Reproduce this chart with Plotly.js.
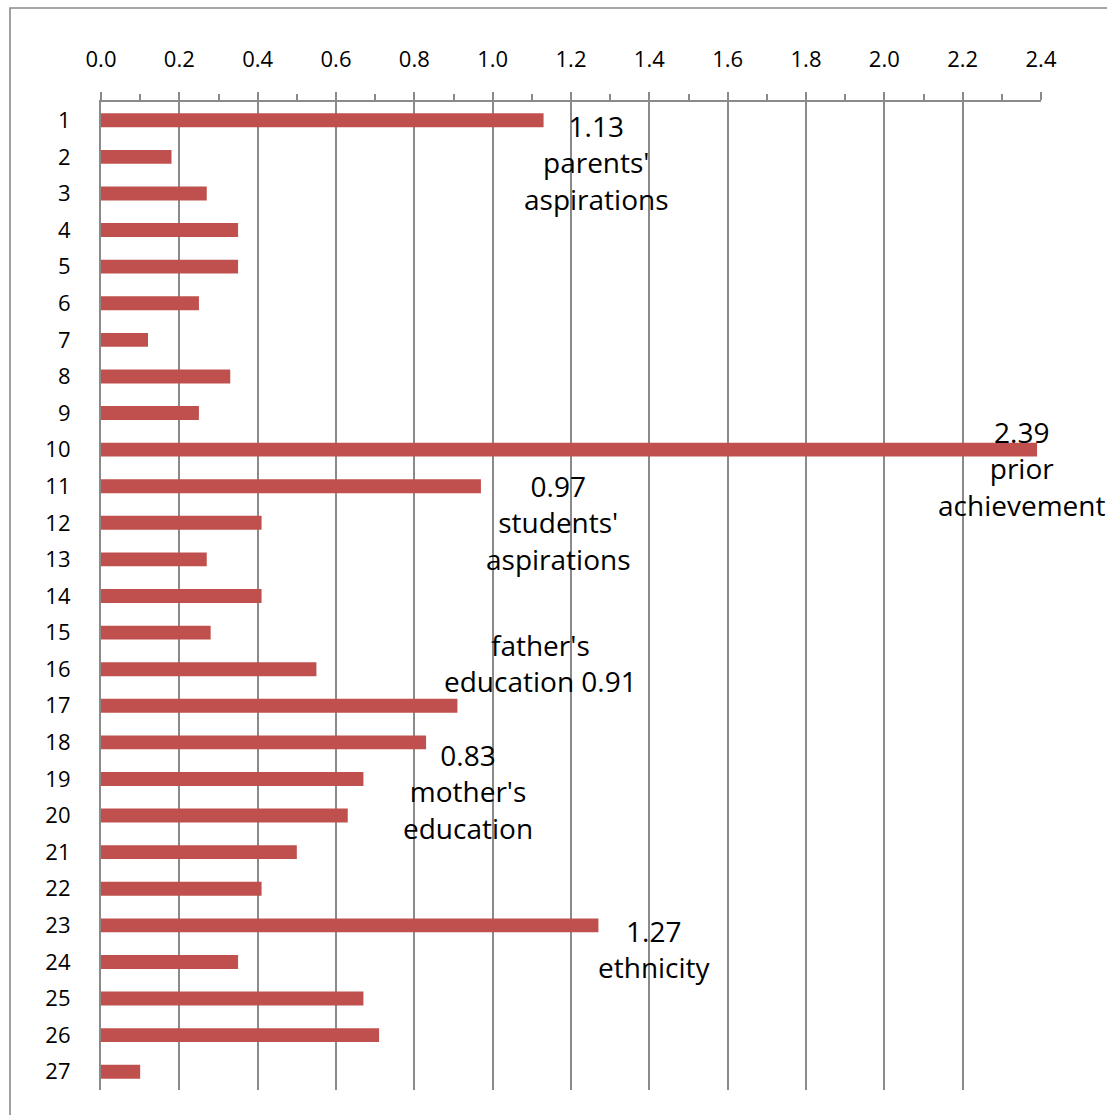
<!DOCTYPE html>
<html>
<head>
<meta charset="utf-8">
<script src="https://cdn.plot.ly/plotly-3.0.1.min.js"></script>
<style>
html,body{margin:0;padding:0;background:#fff;overflow:hidden;}
#chart{width:1107px;height:1115px;}
</style>
</head>
<body>
<div id="chart"></div>
<script>
// Categories (top to bottom)
const categories = ['1','2','3','4','5','6','7','8','9','10','11','12','13','14','15','16','17','18','19','20','21','22','23','24','25','26','27'];
// Bar values
const values = [1.13,0.18,0.27,0.35,0.35,0.25,0.12,0.33,0.25,2.39,0.97,0.41,0.27,0.41,0.28,0.55,0.91,0.83,0.67,0.63,0.50,0.41,1.27,0.35,0.67,0.71,0.10];
// X tick values and labels
const xTickVals = [0,0.2,0.4,0.6,0.8,1.0,1.2,1.4,1.6,1.8,2.0,2.2,2.4];
const xTickText = ['0.0','0.2','0.4','0.6','0.8','1.0','1.2','1.4','1.6','1.8','2.0','2.2','2.4'];
// Annotation texts, their x (data units) and y (category index)
const noteTexts = ["1.13<br>parents'<br>aspirations","2.39<br>prior<br>achievement","0.97<br>students'<br>aspirations","father's<br>education 0.91","0.83<br>mother's<br>education","1.27<br>ethnicity"];
const noteX = [1.266, 2.351, 1.167, 1.123, 0.937, 1.412];
const noteY = [1.16, 9.51, 11.0, 14.83, 18.34, 22.65];

const trace = {
  type: 'bar',
  orientation: 'h',
  x: values,
  y: categories,
  marker: {color: '#C0504D', line: {width: 0}},
  hoverinfo: 'x+y'
};

const grid = '#8a8a8a';
const annotations = noteTexts.map((t, i) => ({
  text: t, x: noteX[i], y: noteY[i], xref: 'x', yref: 'y',
  showarrow: false, xanchor: 'center', yanchor: 'middle', align: 'center',
  font: {family: 'Open Sans, sans-serif', size: 28, color: '#000'}
}));

const layout = {
  width: 1107, height: 1115,
  margin: {l: 101, r: 66, t: 102, b: 25, pad: 0},
  paper_bgcolor: '#fff', plot_bgcolor: '#fff',
  showlegend: false,
  bargap: 0.62,
  font: {family: 'Open Sans, sans-serif', color: '#000'},
  xaxis: {
    side: 'top', range: [0, 2.4], fixedrange: true,
    tickvals: xTickVals, ticktext: xTickText,
    showgrid: true, gridcolor: grid, gridwidth: 1.6,
    zeroline: false,
    showline: true, linecolor: grid, linewidth: 1.6,
    ticks: 'outside', ticklen: 8, tickwidth: 1.6, tickcolor: grid,
    minor: {dtick: 0.1, ticks: 'outside', ticklen: 6, tickwidth: 1.6, tickcolor: grid, showgrid: false},
    ticklabelstandoff: 16,
    tickfont: {family: 'Open Sans, sans-serif', size: 22, color: '#000'}
  },
  yaxis: {
    type: 'category', autorange: 'reversed', fixedrange: true,
    showgrid: false, zeroline: false,
    showline: true, linecolor: grid, linewidth: 2.2,
    ticks: '', ticklabelstandoff: 24,
    tickfont: {family: 'Open Sans, sans-serif', size: 22, color: '#000'}
  },
  annotations: annotations,
  shapes: [{
    type: 'rect', xref: 'paper', yref: 'paper',
    x0: (10 - 101) / 940, x1: 1.2, y0: -0.2, y1: (1090 - 8) / 988,
    line: {color: '#8a8a8a', width: 1.6}, fillcolor: 'rgba(0,0,0,0)', layer: 'below'
  }]
};

Plotly.newPlot('chart', [trace], layout, {displayModeBar: false, staticPlot: false});
</script>
</body>
</html>
